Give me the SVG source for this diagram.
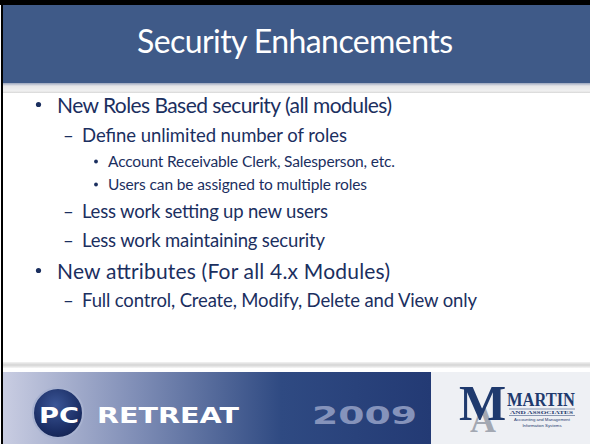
<svg xmlns="http://www.w3.org/2000/svg" width="590" height="444" viewBox="0 0 590 444">
<style>
.body{font-family:Lato,"Open Sans","Liberation Sans",sans-serif;fill:#1b2f5f}
.l1{font-size:21px}
.l2{font-size:18.5px}
.l3{font-size:15.5px}
.title{font-family:Lato,"Open Sans","Liberation Sans",sans-serif;font-size:32px;fill:#ffffff}
.foot{font-family:"DejaVu Sans","Liberation Sans",sans-serif;font-weight:bold;fill:#ffffff}
.serif{font-family:"Liberation Serif","DejaVu Serif",serif;font-weight:bold;fill:#1f3a6e}
.tiny{font-family:"Liberation Sans",sans-serif;fill:#1f3a6e}
</style>
<defs>
<linearGradient id="footL" x1="0" y1="0" x2="1" y2="0">
<stop offset="0" stop-color="#c9cde2"/>
<stop offset="0.3" stop-color="#8290b8"/>
<stop offset="0.65" stop-color="#2f4a82"/>
<stop offset="1" stop-color="#233a74"/>
</linearGradient>
<linearGradient id="sep" x1="0" y1="0" x2="0" y2="1">
<stop offset="0" stop-color="#f2f2f2"/>
<stop offset="0.5" stop-color="#d4d4d4"/>
<stop offset="1" stop-color="#f6f6f6"/>
</linearGradient>
<linearGradient id="hdrSh" x1="0" y1="0" x2="0" y2="1">
<stop offset="0" stop-color="#9aa5bd"/>
<stop offset="0.3" stop-color="#e6e6e8"/>
<stop offset="0.8" stop-color="#f0f0f0"/>
<stop offset="1" stop-color="#d6d6d6"/>
</linearGradient>
<radialGradient id="pcBall" cx="0.45" cy="0.35" r="0.7">
<stop offset="0" stop-color="#3b5697"/>
<stop offset="0.7" stop-color="#1c2f66"/>
<stop offset="1" stop-color="#13224f"/>
</radialGradient>
</defs>

<g id="background">
<rect x="0" y="0" width="590" height="444" fill="#ffffff"/>
<rect x="0" y="0" width="590" height="5" fill="#000000"/>
<rect x="1" y="0" width="2" height="444" fill="#000000"/>
</g>

<g id="header">
<rect x="3" y="5" width="587" height="78" fill="#3f5a88"/>
<rect x="3" y="83" width="587" height="10" fill="url(#hdrSh)"/>
<text class="title" x="295" y="53" text-anchor="middle" textLength="316">Security Enhancements</text>
</g>

<g id="content">
<circle cx="38.5" cy="104.5" r="2.6" fill="#1b2f5f"/>
<text class="body l1" x="57" y="113" textLength="335">New Roles Based security (all modules)</text>
<text class="body l2" x="63" y="142">–</text>
<text class="body l2" x="82" y="142" textLength="265">Define unlimited number of roles</text>
<circle cx="96" cy="161.5" r="1.9" fill="#1b2f5f"/>
<text class="body l3" x="108" y="167" textLength="287">Account Receivable Clerk, Salesperson, etc.</text>
<circle cx="96" cy="184.5" r="1.9" fill="#1b2f5f"/>
<text class="body l3" x="108" y="190" textLength="259">Users can be assigned to multiple roles</text>
<text class="body l2" x="63" y="218">–</text>
<text class="body l2" x="82" y="218" textLength="246">Less work setting up new users</text>
<text class="body l2" x="63" y="247">–</text>
<text class="body l2" x="82" y="247" textLength="243">Less work maintaining security</text>
<circle cx="38.5" cy="270.5" r="2.6" fill="#1b2f5f"/>
<text class="body l1" x="57" y="279" textLength="333">New attributes (For all 4.x Modules)</text>
<text class="body l2" x="63" y="307">–</text>
<text class="body l2" x="82" y="307" textLength="395">Full control, Create, Modify, Delete and View only</text>
</g>

<g id="footer">
<rect x="3" y="362" width="587" height="6" fill="url(#sep)"/>
<rect x="3" y="372" width="428" height="72" fill="url(#footL)"/>
<rect x="431" y="372" width="159" height="72" fill="#eef0f4"/>
</g>

<g id="pc-retreat-logo">
<circle cx="58" cy="413" r="25" fill="url(#pcBall)" stroke="#a8b2d0" stroke-width="2"/>
<text class="foot" x="39" y="423" font-size="21" textLength="40" lengthAdjust="spacingAndGlyphs">PC</text>
<text class="foot" x="97" y="423" font-size="21" textLength="142" lengthAdjust="spacingAndGlyphs">RETREAT</text>
<text class="foot" x="312" y="424" font-size="24" textLength="105" lengthAdjust="spacingAndGlyphs" style="fill:#8593bb">2009</text>
</g>

<g id="martin-logo">
<text font-family="Liberation Serif,serif" font-weight="bold"><tspan x="470" y="432" font-size="36" fill="#a3a8b2">A</tspan><tspan x="459" y="420" font-size="50" fill="#1f3a6e">M</tspan></text>
<text class="serif" x="507" y="405.5" font-size="18" textLength="68" lengthAdjust="spacingAndGlyphs">MARTIN</text>
<line x1="509" y1="409" x2="575" y2="409" stroke="#1f3a6e" stroke-width="0.5"/>
<text class="serif" x="510" y="414" font-size="5" font-weight="normal" textLength="63" lengthAdjust="spacingAndGlyphs">AND ASSOCIATES</text>
<line x1="509" y1="415.5" x2="575" y2="415.5" stroke="#1f3a6e" stroke-width="0.5"/>
<text class="tiny" x="542" y="420.5" font-size="4.3" text-anchor="middle">Accounting and Management</text>
<text class="tiny" x="542" y="426.5" font-size="4.3" text-anchor="middle">Information Systems</text>
</g>
</svg>
